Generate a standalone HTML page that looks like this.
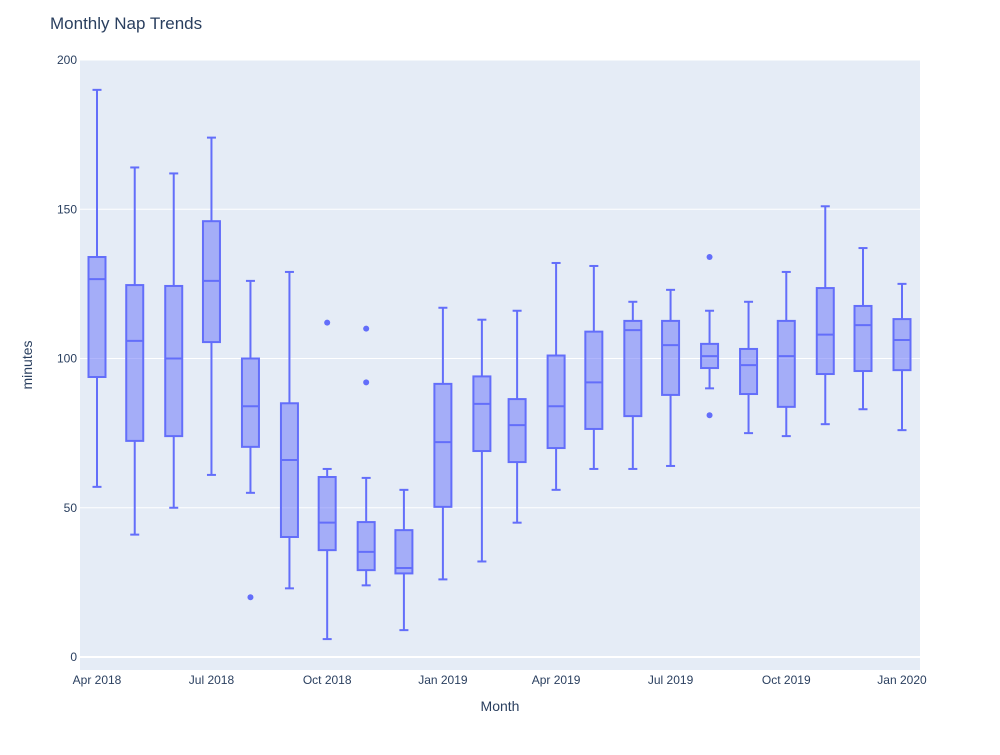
<!DOCTYPE html>
<html><head><meta charset="utf-8"><style>
body{margin:0;background:#fff;}
svg text{font-family:"Liberation Sans",Arial,sans-serif;fill:#2a3f5f;}
</style></head><body>
<svg id="chart" width="1000" height="750">
<rect x="0" y="0" width="1000" height="750" fill="#fff"/>
<rect x="80" y="60" width="840" height="610" fill="#e5ecf6"/>
<g id="grid"></g>
<g id="boxes"></g>
<g id="axes"></g>
<text x="50" y="29" font-size="17">Monthly Nap Trends</text>
<text x="500" y="711" font-size="14" text-anchor="middle">Month</text>
<text x="32" y="365" font-size="14" text-anchor="middle" transform="rotate(-90 32 365)">minutes</text>
</svg>
<script>
const months=["2018-04","2018-05","2018-06","2018-07","2018-08","2018-09","2018-10","2018-11","2018-12","2019-01","2019-02","2019-03","2019-04","2019-05","2019-06","2019-07","2019-08","2019-09","2019-10","2019-11","2019-12","2020-01"];
const mins=[57,41,50,61,55,23,6,24,9,26,32,45,56,63,63,64,90,75,74,78,83,76];
const q1s=[93.8,72.4,74,105.5,70.4,40.2,35.8,29.1,28,50.3,69,65.3,70,76.4,80.7,87.8,96.8,88.1,83.8,94.8,95.8,96.1];
const medians=[126.6,105.9,100,126,84,66,45,35.2,29.8,72,84.8,77.7,84,92,109.5,104.5,100.8,97.8,100.8,108,111.2,106.2];
const q3s=[134,124.6,124.3,146,100,85,60.3,45.2,42.5,91.5,94,86.4,101,109,112.6,112.6,104.9,103.2,112.6,123.6,117.6,113.2];
const maxs=[190,164,162,174,126,129,63,60,56,117,113,116,132,131,119,123,116,119,129,151,137,125];
const outliers=[[],[],[],[],[20],[],[112],[110,92],[],[],[],[],[],[],[],[],[134,81],[],[],[],[],[]];
const yTicks=[0,50,100,150,200];
const xTickLabels=["Apr 2018","Jul 2018","Oct 2018","Jan 2019","Apr 2019","Jul 2019","Oct 2019","Jan 2020"];
const xTickDates=["2018-04","2018-07","2018-10","2019-01","2019-04","2019-07","2019-10","2020-01"];

const NS="http://www.w3.org/2000/svg";
const t0=Date.UTC(2018,3,1), t1=Date.UTC(2020,0,1);
function tm(s){const [y,m]=s.split("-").map(Number);return Date.UTC(y,m-1,1);}
function X(s){return 97+(tm(s)-t0)/(t1-t0)*805;}
function Y(v){return 657-v*2.985;}
function mk(tag,attrs,parent){const e=document.createElementNS(NS,tag);for(const k in attrs)e.setAttribute(k,attrs[k]);parent.appendChild(e);return e;}
const grid=document.getElementById('grid'),boxes=document.getElementById('boxes'),axes=document.getElementById('axes');
yTicks.forEach(v=>{
  const l=mk('line',{x1:80,x2:920,y1:Y(v),y2:Y(v),stroke:'#fff','stroke-width':v===0?2:1},grid);
  
  
  const t=mk('text',{x:77,y:Y(v)+4,'font-size':12,'text-anchor':'end'},axes);
  t.textContent=v;
  
  
});
xTickDates.forEach((d,i)=>{
  const t=mk('text',{x:X(d),y:684,'font-size':12,'text-anchor':'middle'},axes);
  t.textContent=xTickLabels[i];
  
  
});
const hw=8.5,cw=4.5,col='#636efa';
months.forEach((m,i)=>{
  const cx=X(m);
  const g=mk('g',{},boxes);
  
  
  mk('line',{x1:cx,x2:cx,y1:Y(maxs[i]),y2:Y(q3s[i]),stroke:col,'stroke-width':2},g);
  mk('line',{x1:cx,x2:cx,y1:Y(q1s[i]),y2:Y(mins[i]),stroke:col,'stroke-width':2},g);
  mk('line',{x1:cx-cw,x2:cx+cw,y1:Y(maxs[i]),y2:Y(maxs[i]),stroke:col,'stroke-width':2},g);
  mk('line',{x1:cx-cw,x2:cx+cw,y1:Y(mins[i]),y2:Y(mins[i]),stroke:col,'stroke-width':2},g);
  mk('rect',{x:cx-hw,y:Y(q3s[i]),width:2*hw,height:Y(q1s[i])-Y(q3s[i]),fill:'rgba(99,110,250,0.5)',stroke:col,'stroke-width':2},g);
  mk('line',{x1:cx-hw,x2:cx+hw,y1:Y(medians[i]),y2:Y(medians[i]),stroke:col,'stroke-width':2},g);
  outliers[i].forEach(v=>{
    const c=mk('circle',{cx:cx,cy:Y(v),r:3,fill:col},g);
    
    
  });
});
</script>
</body></html>
